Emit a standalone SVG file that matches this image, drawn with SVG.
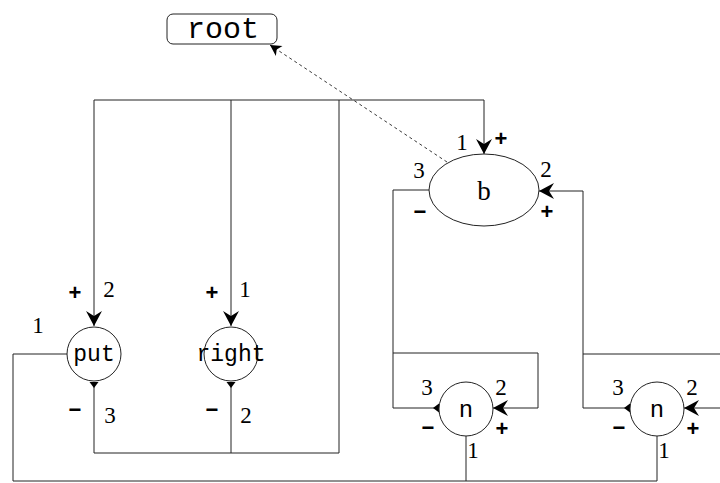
<svg xmlns="http://www.w3.org/2000/svg" width="720" height="483" viewBox="0 0 720 483">
<style>
.w{fill:none;stroke:#222;stroke-width:1}
.node{fill:#fff;stroke:#222;stroke-width:1}
.mono{font-family:"Liberation Mono","DejaVu Sans Mono",monospace;text-anchor:middle;fill:#000}
.num{font-family:"Liberation Serif","DejaVu Serif",serif;font-size:23px;text-anchor:middle;fill:#000}
.sg{font-family:"Liberation Sans","DejaVu Sans",sans-serif;font-size:22px;font-weight:bold;text-anchor:middle;fill:#000}
.dash{fill:none;stroke:#222;stroke-width:0.9;stroke-dasharray:3,3}
</style>
<defs>
<marker id="arr" markerUnits="userSpaceOnUse" markerWidth="20" markerHeight="20" refX="0" refY="0" viewBox="-16 -10 20 20" orient="auto">
<path d="M0,0 L-15,-8 L-10,0 L-15,8 Z" fill="#000"/>
</marker>
<marker id="sarr" markerUnits="userSpaceOnUse" markerWidth="16" markerHeight="16" refX="0" refY="0" viewBox="-12 -8 16 16" orient="auto">
<path d="M0,0 L-11,-6 L-8,0 L-11,6 Z" fill="#000"/>
</marker>
<marker id="tri" markerUnits="userSpaceOnUse" markerWidth="10" markerHeight="12" refX="0" refY="0" viewBox="-1 -6 10 12" orient="auto">
<path d="M0,-4.5 L6,0 L0,4.5 Z" fill="#000"/>
</marker>
</defs>
<g id="connectors">
<path class="w" d="M94,100 H339"/>
<path class="w" d="M94,100 V326" marker-end="url(#arr)"/>
<path class="w" d="M231,100 V326" marker-end="url(#arr)"/>
<path class="w" d="M339,453 V100 H484 V154" marker-end="url(#arr)"/>
<path class="w" d="M94,382 V453 H339" marker-start="url(#tri)"/>
<path class="w" d="M231,382 V453" marker-start="url(#tri)"/>
<path class="w" d="M67,354 H13 V481 H657 V436"/>
<path class="w" d="M466,436 V481"/>
<path class="w" d="M439,408 H393 V190 H429" marker-start="url(#tri)"/>
<path class="w" d="M393,353 H538 V408 H493" marker-end="url(#arr)"/>
<path class="w" d="M630,408 H583 V191 H539" marker-start="url(#tri)" marker-end="url(#arr)"/>
<path class="w" d="M583,354 H720"/>
<path class="w" d="M720,408 H684" marker-end="url(#arr)"/>
<path class="dash" d="M447,162 L270,45" marker-end="url(#sarr)"/>
</g>
<g id="root">
<rect class="node" x="167" y="14" width="110" height="30" rx="6"/>
<text class="mono" x="223" y="38" style="font-size:30px">root</text>
</g>
<g id="b">
<ellipse class="node" cx="484" cy="190" rx="55" ry="36"/>
<text class="num" x="484" y="200" style="font-size:27px">b</text>
<text class="num" x="462" y="150">1</text>
<text class="sg" x="501" y="146">+</text>
<text class="num" x="419" y="178">3</text>
<text class="num" x="546" y="177">2</text>
<text class="sg" x="420" y="219">−</text>
<text class="sg" x="547" y="219">+</text>
</g>
<g id="put">
<circle class="node" cx="94" cy="354" r="27"/>
<text class="mono" x="94" y="361" style="font-size:23px">put</text>
<text class="sg" x="75" y="300">+</text>
<text class="num" x="109" y="297">2</text>
<text class="num" x="38" y="333">1</text>
<text class="sg" x="75" y="417">−</text>
<text class="num" x="110" y="423">3</text>
</g>
<g id="right">
<circle class="node" cx="231" cy="354" r="27"/>
<text class="mono" x="231" y="361" style="font-size:23px">right</text>
<text class="sg" x="212" y="300">+</text>
<text class="num" x="245" y="297">1</text>
<text class="sg" x="212" y="417">−</text>
<text class="num" x="246" y="423">2</text>
</g>
<g id="n1">
<circle class="node" cx="466" cy="409" r="27"/>
<text class="mono" x="466" y="417" style="font-size:24px">n</text>
<text class="num" x="427" y="395">3</text>
<text class="num" x="501" y="395">2</text>
<text class="sg" x="428" y="435">−</text>
<text class="sg" x="502" y="436">+</text>
<text class="num" x="473" y="458">1</text>
</g>
<g id="n2">
<circle class="node" cx="657" cy="409" r="27"/>
<text class="mono" x="657" y="417" style="font-size:24px">n</text>
<text class="num" x="618" y="395">3</text>
<text class="num" x="692" y="395">2</text>
<text class="sg" x="619" y="435">−</text>
<text class="sg" x="693" y="436">+</text>
<text class="num" x="664" y="458">1</text>
</g>
</svg>
